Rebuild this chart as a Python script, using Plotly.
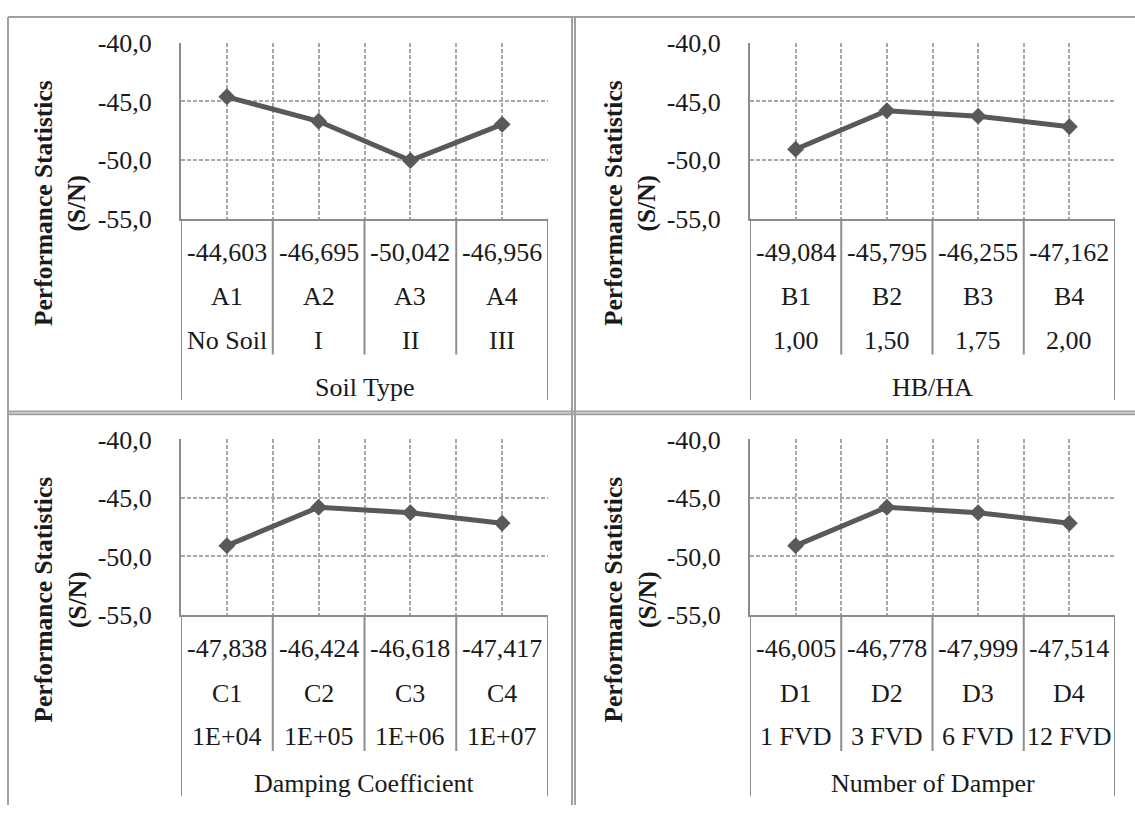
import plotly.graph_objects as go

# ---------------- data ----------------
factor_titles = ["Soil Type", "HB/HA", "Damping Coefficient", "Number of Damper"]

codes_A = ["A1", "A2", "A3", "A4"]
levels_A = ["No Soil", "I", "II", "III"]
table_A = [-44.603, -46.695, -50.042, -46.956]
line_A = [-44.603, -46.695, -50.042, -46.956]

codes_B = ["B1", "B2", "B3", "B4"]
levels_B = ["1,00", "1,50", "1,75", "2,00"]
table_B = [-49.084, -45.795, -46.255, -47.162]
line_B = [-49.084, -45.795, -46.255, -47.162]

codes_C = ["C1", "C2", "C3", "C4"]
levels_C = ["1E+04", "1E+05", "1E+06", "1E+07"]
table_C = [-47.838, -46.424, -46.618, -47.417]
line_C = [-49.08, -45.80, -46.26, -47.16]   # line as drawn in the picture

codes_D = ["D1", "D2", "D3", "D4"]
levels_D = ["1 FVD", "3 FVD", "6 FVD", "12 FVD"]
table_D = [-46.005, -46.778, -47.999, -47.514]
line_D = [-49.08, -45.80, -46.26, -47.16]   # line as drawn in the picture

y_ticks = [-55, -50, -45, -40]
y_tick_labels = ["-55,0", "-50,0", "-45,0", "-40,0"]
y_title = "Performance Statistics<br>(S/N)"

# ---------------- layout helpers ----------------
W, H = 1135, 820
def fx(p): return p / W
def fy(p): return 1 - p / H

FONT = "Liberation Serif"
TXT = "#1a1a1a"
AXC = "#8c8c8c"
GRID = "#a8a8a8"
LINEC = "#595959"
FS = 26

panels = [
    dict(codes=codes_A, levels=levels_A, table=table_A, line=line_A, title=factor_titles[0],
         x0=181, x1=548, top=30, bot=212, ytx=60),
    dict(codes=codes_B, levels=levels_B, table=table_B, line=line_B, title=factor_titles[1],
         x0=750, x1=1115, top=30, bot=212, ytx=630),
    dict(codes=codes_C, levels=levels_C, table=table_C, line=line_C, title=factor_titles[2],
         x0=181, x1=548, top=441, bot=623, ytx=60),
    dict(codes=codes_D, levels=levels_D, table=table_D, line=line_D, title=factor_titles[3],
         x0=750, x1=1115, top=441, bot=623, ytx=630),
]

fig = go.Figure()
annotations = []
shapes = []
layout_axes = {}

for k, p in enumerate(panels):
    n = "" if k == 0 else str(k + 1)
    xa, ya = "x" + n, "y" + n
    xs = list(range(len(p["codes"])))
    fig.add_trace(go.Scatter(
        x=xs, y=p["line"], xaxis=xa, yaxis=ya, mode="lines+markers",
        line=dict(color=LINEC, width=5),
        marker=dict(symbol="diamond", size=13, color=LINEC),
        showlegend=False, hoverinfo="skip"))

    layout_axes["xaxis" + n] = dict(
        domain=[fx(p["x0"]), fx(p["x1"])], anchor=ya,
        range=[-0.5, 3.5], tickmode="array",
        tickvals=[-0.5, 0, 0.5, 1, 1.5, 2, 2.5, 3, 3.5],
        showticklabels=False, ticks="",
        showgrid=True, gridcolor=GRID, gridwidth=1.5, griddash="4px,2px",
        showline=True, linecolor=AXC, linewidth=2, zeroline=False, fixedrange=True)
    layout_axes["yaxis" + n] = dict(
        domain=[fy(p["bot"]), fy(p["top"])], anchor=xa,
        range=[-55, -40], tickmode="array", tickvals=y_ticks, ticktext=y_tick_labels,
        ticks="", ticklabelstandoff=22,
        tickfont=dict(family=FONT, size=FS, color=TXT),
        showgrid=True, gridcolor=GRID, gridwidth=1.5, griddash="4px,2px",
        showline=True, linecolor=AXC, linewidth=2, zeroline=False, fixedrange=True)

    span = p["bot"] - p["top"]
    def yd(offset, span=span):
        return -offset / span

    # table text
    for i in xs:
        val = f"{p['table'][i]:.3f}".replace(".", ",")
        for off, txt in ((35, val), (81, p["codes"][i]), (126, p["levels"][i])):
            annotations.append(dict(
                x=i, y=yd(off), xref=xa, yref=ya + " domain", text=txt,
                showarrow=False, xanchor="center", yanchor="middle",
                font=dict(family=FONT, size=FS, color=TXT)))
    annotations.append(dict(
        x=1.5, y=yd(175), xref=xa, yref=ya + " domain", text=p["title"],
        showarrow=False, xanchor="center", yanchor="middle",
        font=dict(family=FONT, size=FS, color=TXT)))

    # table lines
    for b in [-0.5, 0.5, 1.5, 2.5, 3.5]:
        end = 188 if b in (-0.5, 3.5) else 141
        shapes.append(dict(type="line", xref=xa, yref=ya + " domain",
                           x0=b, x1=b, y0=0, y1=yd(end),
                           line=dict(color=AXC, width=2)))

    # y title
    annotations.append(dict(
        x=fx(p["ytx"]), y=fy((p["top"] + p["bot"]) / 2 + 75), xref="paper", yref="paper",
        text="<b>" + y_title.replace("<br>", "</b><br><b>") + "</b>",
        textangle=-90, showarrow=False, xanchor="center", yanchor="middle",
        font=dict(family=FONT, size=25.5, color=TXT)))

# panel borders (double lines between panels)
BORDER = "#a0a0a0"
for (x0, y0, x1, y1) in [
    (8, 3, W, 3), (8, 3, 8, H),
    (572, 3, 572, H), (575, 3, 575, H),
    (8, 412, W, 412), (8, 415, W, 415),
]:
    shapes.append(dict(type="line", xref="paper", yref="paper",
                       x0=fx(x0), x1=fx(x1), y0=fy(y0), y1=fy(y1),
                       line=dict(color=BORDER, width=2)))

fig.update_layout(
    width=W, height=H, margin=dict(l=0, r=0, t=0, b=0),
    paper_bgcolor="white", plot_bgcolor="white",
    annotations=annotations, shapes=shapes,
    **layout_axes)

fig.write_html(
    "out.html",
    config={"displayModeBar": False},
    post_script=(
        "var gd=document.getElementById('{plot_id}');"
        "gd.style.position='fixed';gd.style.top='0px';gd.style.left='0px';"
        "document.body.style.margin='0';"
        "document.documentElement.style.overflow='hidden';"
        "document.body.style.overflow='hidden';"
    ))
